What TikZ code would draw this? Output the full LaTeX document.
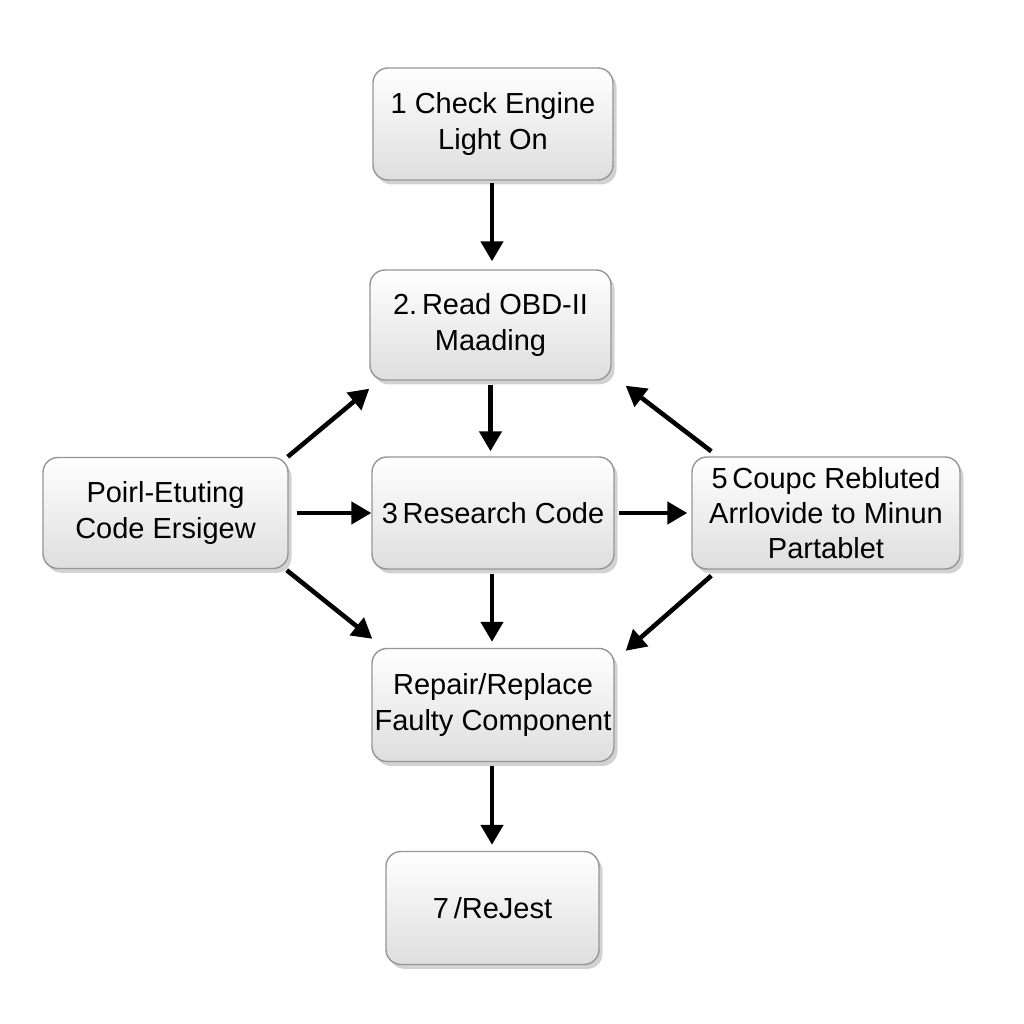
\documentclass[tikz,border=0pt]{standalone}
\usepackage{fontspec}
\setmainfont{Liberation Sans}
\usetikzlibrary{arrows.meta,shadows}

\begin{document}
\begin{tikzpicture}[
    stepbox/.style={draw=boxedgecolor, line width=0.8pt, rounded corners=0.3cm,
        top color=white, bottom color=boxfillcolor, align=center, inner sep=0pt,
        minimum width=4.8cm, minimum height=2.24cm,
        font=\fontsize{16.5}{20}\selectfont,
        drop shadow={shadow xshift=2pt, shadow yshift=-2.5pt, opacity=0.35}},
    flowarrow/.style={line width=2.6pt, -{Triangle[length=0.4cm,width=0.44cm]}}
  ]
    % Define the colors
    \definecolor{boxfillcolor}{RGB}{222, 222, 222}
    \definecolor{boxedgecolor}{RGB}{150, 150, 150}

    % Fix the page size
    \useasboundingbox[fill=white] (0,0) rectangle (20.48,20.48);

    % Draw the steps
    \node[stepbox] (check) at (9.86,18.00) {1 Check Engine\\Light On};
    \node[stepbox, minimum width=4.82cm, minimum height=2.2cm] (read) at (9.81,13.98) {2.\,Read OBD-II\\Maading};
    \node[stepbox, minimum width=4.9cm, minimum height=2.22cm] (poirl) at (3.31,10.22) {Poirl-Etuting\\Code Ersigew};
    \node[stepbox, minimum width=4.84cm] (research) at (9.86,10.22) {3\,Research Code};
    \node[stepbox, minimum width=5.36cm] (coupc) at (16.52,10.22) {5\,Coupc Rebluted\\Arrlovide to Minun\\Partablet};
    \node[stepbox, minimum width=4.84cm, minimum height=2.26cm] (repair) at (9.86,6.38) {Repair/Replace\\Faulty Component};
    \node[stepbox, minimum width=4.26cm, minimum height=2.26cm] (rejest) at (9.85,2.32) {7\,/ReJest};

    % Draw the main column
    \draw[flowarrow, shorten <=0.04cm, shorten >=0.16cm] ([xshift=-0.02cm]check.south) -- ([xshift=-0.02cm]check.south |- read.north);
    \draw[flowarrow, shorten <=0.08cm, shorten >=0.1cm] (read) -- (read |- research.north);
    \draw[flowarrow, shorten <=0.08cm, shorten >=0.12cm] ([xshift=-0.02cm]research.south) -- ([xshift=-0.02cm]research.south |- repair.north);
    \draw[flowarrow, shorten <=0.08cm, shorten >=0.12cm] ([xshift=-0.02cm]repair.south) -- ([xshift=-0.02cm]repair.south |- rejest.north);

    % Draw the side arrows
    \draw[flowarrow, shorten <=0.16cm] (poirl) -- (research);
    \draw[flowarrow, shorten <=0.08cm, shorten >=0.08cm] (research) -- (coupc);
    \draw[flowarrow] ([xshift=-0.02cm]poirl.north east) -- ([yshift=-0.16cm]read.south west);
    \draw[flowarrow] ([xshift=-0.04cm,yshift=-0.02cm]poirl.south east) -- ([xshift=0.02cm,yshift=0.18cm]repair.north west);
    \draw[flowarrow] ([xshift=0.4cm,yshift=0.1cm]coupc.north west) -- ([xshift=0.28cm,yshift=-0.1cm]read.south east);
    \draw[flowarrow] ([xshift=0.4cm,yshift=-0.12cm]coupc.south west) -- ([xshift=0.22cm,yshift=-0.06cm]repair.north east);

\end{tikzpicture}
\end{document}
